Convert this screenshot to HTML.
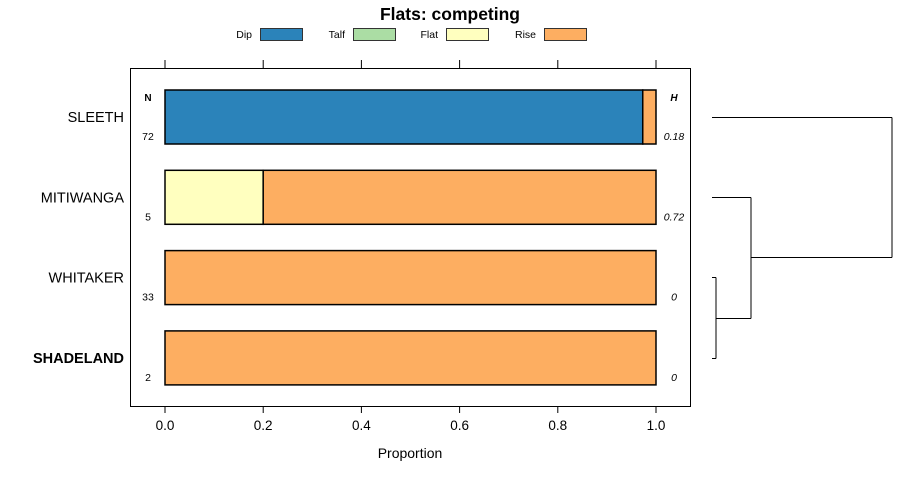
<!DOCTYPE html>
<html><head><meta charset="utf-8"><style>
body{margin:0;background:#fff;}
svg{font-family:"Liberation Sans",sans-serif;}
</style></head><body>
<svg id="chart" width="900" height="480" viewBox="0 0 900 480">
<text x="450" y="20" font-size="17.5" font-weight="bold" text-anchor="middle">Flats: competing</text>
<g id="legend"></g>
<rect x="130.5" y="68.5" width="560" height="338" fill="none" stroke="#000" stroke-width="1"/>
<g id="axes"></g>
<g id="bars"></g>
<g id="dendro" stroke="#000" fill="none" stroke-width="1"></g>
<text x="410" y="458" font-size="14" text-anchor="middle">Proportion</text>
<text x="148" y="101" font-size="10" font-weight="bold" text-anchor="middle">N</text>
<text x="674" y="101" font-size="10" font-weight="bold" font-style="italic" text-anchor="middle">H</text>
</svg>
<script>
const categories=["SLEETH","MITIWANGA","WHITAKER","SHADELAND"];
const seriesNames=["Dip","Talf","Flat","Rise"];
const colors=["#2b83ba","#abdda4","#ffffbf","#fdae61"];
const dip=[0.973,0,0,0];
const talf=[0,0,0,0];
const flat=[0,0.2,0,0];
const rise=[0.027,0.8,1,1];
const nVals=["72","5","33","2"];
const hVals=["0.18","0.72","0","0"];
const boldCat=[false,false,false,true];
const ticks=[0,0.2,0.4,0.6,0.8,1.0];
const tickLabels=["0.0","0.2","0.4","0.6","0.8","1.0"];
const NS="http://www.w3.org/2000/svg";
function mk(t,a,p){const e=document.createElementNS(NS,t);for(const k in a)e.setAttribute(k,a[k]);p.appendChild(e);return e;}
const x=v=>165+v*491;
const yc=i=>117+i*80.3;
const bh=54;
const axes=document.getElementById('axes');
ticks.forEach((t,i)=>{
 const l1=mk('line',{x1:x(t),x2:x(t),y1:60,y2:68,stroke:'#000'},axes);
 
 
 const l2=mk('line',{x1:x(t),x2:x(t),y1:406,y2:413,stroke:'#000'},axes);
 
 
 const tx=mk('text',{x:x(t),y:430,'font-size':13.5,'text-anchor':'middle'},axes);
 tx.textContent=tickLabels[i];
 
 
});
const bars=document.getElementById('bars');
const series=[dip,talf,flat,rise];
categories.forEach((c,i)=>{
 let acc=0;const top=yc(i)-bh/2;
 series.forEach((s,j)=>{
  if(s[i]<=0)return;
  const r=mk('rect',{x:x(acc),y:top,width:x(acc+s[i])-x(acc),height:bh,fill:colors[j],stroke:'#000','stroke-width':1.5},bars);
  
  
  acc+=s[i];
 });
 const lab=mk('text',{x:124,y:yc(i)+5,'font-size':14.5,'text-anchor':'end','font-weight':boldCat[i]?'bold':'normal'},bars);
 lab.textContent=c;
 
 
 const n=mk('text',{x:148,y:yc(i)+23,'font-size':10.5,'text-anchor':'middle'},bars);
 n.textContent=nVals[i];
 
 
 const h=mk('text',{x:674,y:yc(i)+23,'font-size':10.5,'font-style':'italic','text-anchor':'middle'},bars);
 h.textContent=hVals[i];
 
 
});
const leg=document.getElementById('legend');
const legX=[260,353,446,544];
seriesNames.forEach((s,j)=>{
 const t=mk('text',{x:legX[j]-8,y:38,'font-size':10.5,'text-anchor':'end'},leg);
 t.textContent=s;
 
 
 const r=mk('rect',{x:legX[j]+0.5,y:28.5,width:42,height:12,fill:colors[j],stroke:'#333'},leg);
 
 
});
const d=document.getElementById('dendro');
const lines=[[712,117,892,117],[712,197,751,197],[712,277,716,277],[712,358,716,358],[716,277,716,358],[716,318,751,318],[751,197,751,318],[751,257,892,257],[892,117,892,257]];
lines.forEach(l=>{
 const e=mk('line',{x1:l[0],y1:l[1]+0.5,x2:l[2],y2:l[3]+0.5},d);
 
 
});
</script>
</body></html>
